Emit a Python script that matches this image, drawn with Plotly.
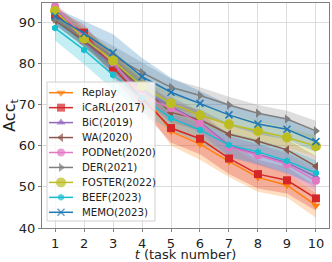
import plotly.graph_objects as go

tasks = [1, 2, 3, 4, 5, 6, 7, 8, 9, 10]

names = ["Replay", "iCaRL(2017)", "BiC(2019)", "WA(2020)", "PODNet(2020)",
         "DER(2021)", "FOSTER(2022)", "BEEF(2023)", "MEMO(2023)"]

replay = [92.3, 86.8, 80.2, 73.0, 63.5, 60.4, 56.2, 52.3, 50.4, 45.5]
icarl = [91.8, 87.5, 79.0, 71.5, 64.3, 61.7, 56.9, 53.1, 51.6, 47.2]
bic = [93.3, 85.2, 79.6, 73.5, 69.5, 65.8, 60.0, 58.0, 55.9, 52.4]
wa = [90.5, 85.5, 80.0, 74.0, 68.1, 66.3, 62.8, 61.1, 59.0, 55.0]
podnet = [93.9, 86.5, 80.3, 72.0, 69.1, 65.5, 59.7, 57.7, 55.5, 51.5]
der = [90.8, 86.0, 81.8, 77.8, 74.2, 72.2, 69.9, 67.9, 66.5, 63.6]
foster = [92.8, 86.0, 80.7, 74.5, 70.3, 67.4, 65.2, 63.6, 62.0, 59.9]
beef = [88.6, 83.3, 77.2, 71.6, 66.7, 63.8, 60.2, 58.5, 56.3, 53.4]
memo = [91.5, 87.3, 82.6, 76.8, 73.0, 70.3, 67.5, 65.3, 64.0, 61.0]

replay_std = [1.5, 2.0, 2.5, 3.0, 3.5, 3.8, 3.8, 3.5, 3.0, 3.0]
icarl_std = [1.5, 2.0, 2.5, 3.0, 3.5, 3.8, 3.8, 3.5, 3.2, 3.0]
bic_std = [1.0, 1.5, 2.0, 2.5, 2.5, 2.5, 2.5, 2.5, 2.5, 2.5]
wa_std = [1.0, 1.5, 2.0, 2.5, 2.5, 2.5, 2.5, 2.5, 2.5, 2.5]
podnet_std = [1.0, 1.5, 2.0, 2.5, 2.5, 2.5, 2.5, 2.5, 2.5, 2.5]
der_std = [1.5, 2.0, 2.5, 2.5, 2.0, 2.0, 2.0, 2.0, 2.0, 2.5]
foster_std = [1.5, 2.0, 2.5, 2.5, 2.5, 2.5, 2.5, 2.5, 2.5, 2.5]
beef_std = [3.0, 3.5, 3.5, 3.5, 3.0, 3.0, 3.0, 3.0, 3.0, 3.0]
memo_std = [2.0, 3.0, 4.5, 4.5, 3.5, 3.0, 2.5, 2.5, 2.5, 2.5]

y_ticks = [40, 50, 60, 70, 80, 90]

series = [replay, icarl, bic, wa, podnet, der, foster, beef, memo]
stds = [replay_std, icarl_std, bic_std, wa_std, podnet_std, der_std,
        foster_std, beef_std, memo_std]
colors = ["#ff7f0e", "#d62728", "#9467bd", "#8c564b", "#e377c2",
          "#7f7f7f", "#bcbd22", "#17becf", "#1f77b4"]
symbols = ["triangle-down", "square", "triangle-up", "triangle-left", "circle",
           "triangle-right", "circle", "hexagon", "x-thin"]
sizes = [8, 8, 8, 8, 8, 8, 10, 7, 7]

W, H = 332, 262
ML, MR, MT, MB = 42, 3, 3, 34


def rgba(h, a):
    h = h.lstrip("#")
    return "rgba(%d,%d,%d,%s)" % (int(h[0:2], 16), int(h[2:4], 16), int(h[4:6], 16), a)


fig = go.Figure()

for s, sd, c in zip(series, stds, colors):
    upper = [v + e for v, e in zip(s, sd)]
    lower = [v - e for v, e in zip(s, sd)]
    fig.add_trace(go.Scatter(
        x=tasks + tasks[::-1], y=upper + lower[::-1],
        fill="toself", fillcolor=rgba(c, 0.26), line=dict(width=0),
        mode="lines", showlegend=False, hoverinfo="skip"))

for n, s, c, sym, sz in zip(names, series, colors, symbols, sizes):
    fig.add_trace(go.Scatter(
        x=tasks, y=s, name=n, mode="lines+markers", showlegend=False,
        line=dict(color=c, width=1.5),
        marker=dict(symbol=sym, size=sz, color=c,
                    line=dict(width=1.5 if sym == "x-thin" else 0, color=c))))

# ---- legend drawn in a pixel-coordinate overlay axis ----
lx0, lx1, ly0, ly1 = 47, 155, 82, 221
row0, step = 92.7, 14.95
fig.add_trace(go.Scatter(
    x=[lx0, lx1, lx1, lx0, lx0], y=[ly0, ly0, ly1, ly1, ly0],
    xaxis="x2", yaxis="y2", mode="lines", fill="toself",
    fillcolor="rgba(255,255,255,0.8)", line=dict(color="#d0d0d0", width=1),
    showlegend=False, hoverinfo="skip"))
for i, (n, c, sym, sz) in enumerate(zip(names, colors, symbols, sizes)):
    yc = row0 + i * step
    fig.add_trace(go.Scatter(
        x=[49, 61, 73], y=[yc, yc, yc], xaxis="x2", yaxis="y2",
        mode="lines+markers", showlegend=False, hoverinfo="skip",
        line=dict(color=c, width=1.5),
        marker=dict(symbol=sym, size=[0, sz, 0], color=c,
                    line=dict(width=1.5 if sym == "x-thin" else 0, color=c))))
    fig.add_annotation(x=80, y=yc, xref="x2", yref="y2", text=n, showarrow=False,
                       xanchor="left", yanchor="middle",
                       font=dict(size=10.2, color="#222", family="DejaVu Sans"))

axis_common = dict(showgrid=True, gridcolor="#dcdcdc", gridwidth=1,
                   showline=True, linecolor="#808080", linewidth=1, mirror=True,
                   ticks="outside", tickcolor="#808080", ticklen=3,
                   zeroline=False, automargin=False,
                   tickfont=dict(size=13, color="#222"))

fig.update_layout(
    width=W, height=H,
    margin=dict(l=ML, r=MR, t=MT, b=MB),
    paper_bgcolor="white", plot_bgcolor="white",
    font=dict(family="DejaVu Sans", color="#222"),
    showlegend=False,
    xaxis=dict(range=[0.55, 10.45], tickvals=tasks,
               title=dict(text="<i>t</i> (task number)",
                          font=dict(size=13, color="#222"), standoff=5),
               **axis_common),
    yaxis=dict(range=[40, 94.7], tickvals=y_ticks,
               title=dict(text="Acc<sub>t</sub>",
                          font=dict(size=16, color="#222"), standoff=4),
               **axis_common),
    xaxis2=dict(overlaying="x", range=[ML, W - MR], visible=False),
    yaxis2=dict(overlaying="y", range=[H - MB, MT], visible=False),
)

fig.write_html("out.html", config={"displayModeBar": False},
               post_script="document.body.style.margin='0';document.body.style.overflow='hidden';")
